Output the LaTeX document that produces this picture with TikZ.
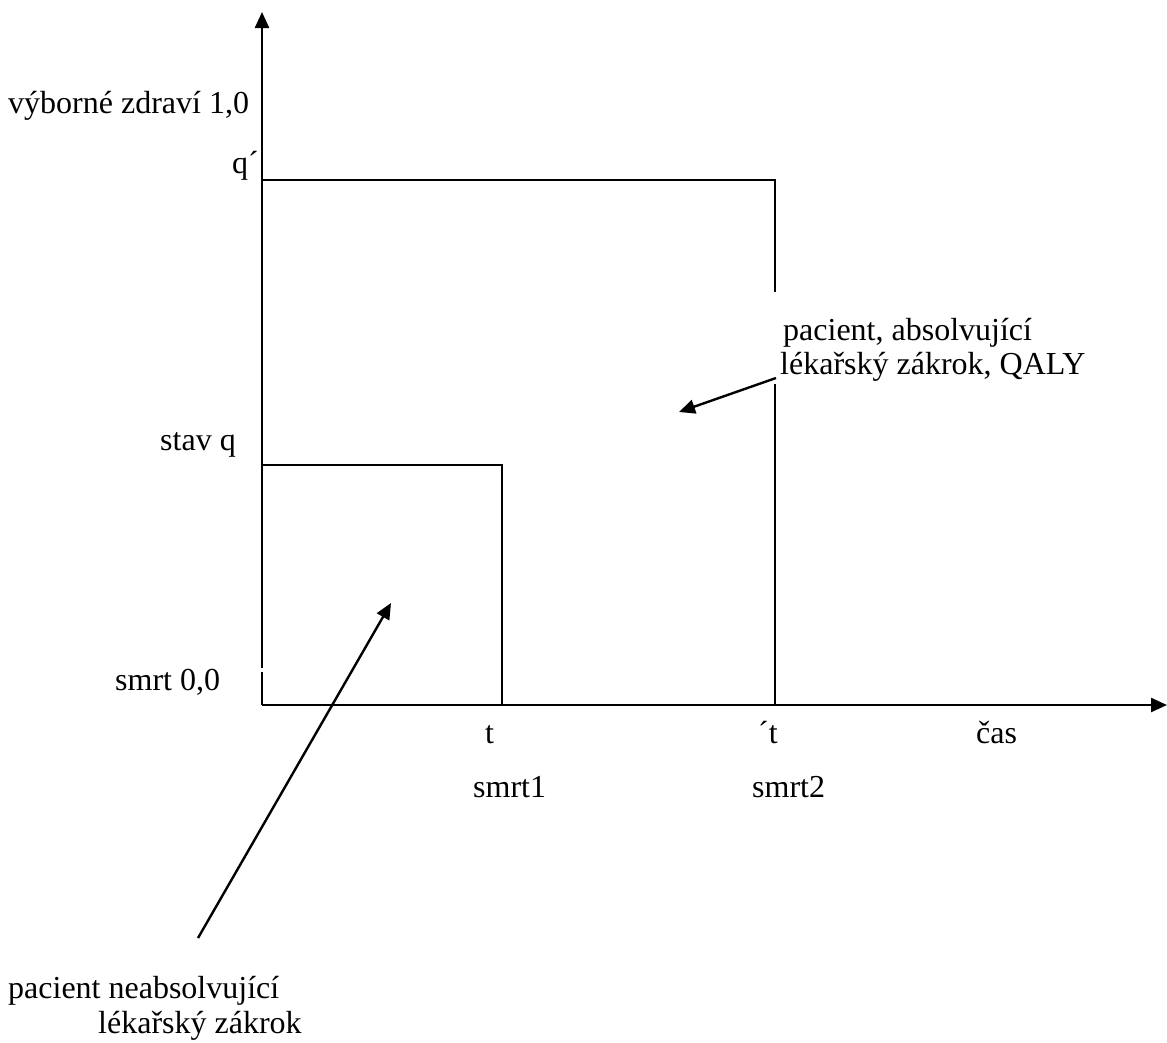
\documentclass[tikz,border=0pt]{standalone}
\usepackage{fontspec}
\setmainfont{Liberation Serif}
\usetikzlibrary{arrows.meta}
\begin{document}
\begin{tikzpicture}[x=1pt,y=-1pt,
  ln/.style={line width=2.4pt},
  arr/.style={line width=2.4pt,-{Triangle[length=16pt,width=14pt]}},
  lbl/.style={anchor=base west,inner sep=0pt,font=\fontsize{32}{38}\selectfont}]
\useasboundingbox (0,0) rectangle (1167,1042);
% axes
\coordinate (O) at (262,705);
\coordinate (ytop) at (262,12);
\coordinate (xend) at (1167,705);
\coordinate (ygapA) at (262,668);
\coordinate (ygapB) at (262,672);
\draw[arr] (ygapA) -- (ytop);
\draw[ln] (ygapB) -- (O);
\draw[arr] (O) -- (xend);
% rectangles
\coordinate (qp0) at (262,180);
\coordinate (qp1) at (775,180);
\coordinate (qp2) at (775,292);
\coordinate (qp3) at (775,384);
\coordinate (qp4) at (775,705);
\draw[ln] (qp0) -- (qp1) -- (qp2);
\draw[ln] (qp3) -- (qp4);
\coordinate (q0) at (262,465);
\coordinate (q1) at (502,465);
\coordinate (q2) at (502,705);
\draw[ln] (q0) -- (q1) -- (q2);
% labels
\node[lbl] (l1) at (8,113) {výborné zdraví 1,0};
\node[lbl] (l2) at (232,173) {q´};
\node[lbl] (l3) at (160,450) {stav q};
\node[lbl] (l4) at (115,690) {smrt 0,0};
\node[lbl] (l5) at (485,743) {t};
\node[lbl] (l6) at (758,743) {´t};
\node[lbl] (l7) at (976,743) {čas};
\node[lbl] (l8) at (473,797) {smrt1};
\node[lbl] (l9) at (752,797) {smrt2};
\node[lbl] (l10) at (783,340) {pacient, absolvující};
\node[lbl] (l11) at (780,374) {lékařský zákrok, QALY};
\node[lbl] (l12) at (8,998) {pacient neabsolvující};
\node[lbl] (l13) at (98,1033) {lékařský zákrok};
% pointers
\coordinate (a1s) at (776,378);
\coordinate (a1e) at (679,412);
\draw[arr] (a1s) -- (a1e);
\coordinate (a2s) at (198,938);
\coordinate (a2e) at (391,603);
\draw[arr] (a2s) -- (a2e);
\end{tikzpicture}
\end{document}
